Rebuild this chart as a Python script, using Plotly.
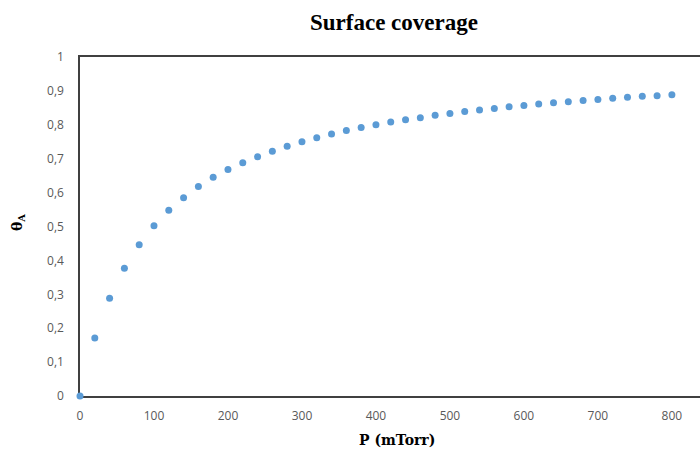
import plotly.graph_objects as go

pressure = [0, 20, 40, 60, 80, 100, 120, 140, 160, 180, 200, 220, 240, 260, 280, 300,
            320, 340, 360, 380, 400, 420, 440, 460, 480, 500, 520, 540, 560, 580, 600,
            620, 640, 660, 680, 700, 720, 740, 760, 780, 800]
coverage = [0.0, 0.171, 0.288, 0.377, 0.446, 0.502, 0.548, 0.585, 0.618, 0.645, 0.668,
            0.688, 0.706, 0.722, 0.737, 0.750, 0.762, 0.773, 0.783, 0.792, 0.800, 0.808,
            0.815, 0.821, 0.828, 0.833, 0.839, 0.844, 0.848, 0.853, 0.857, 0.861, 0.865,
            0.868, 0.872, 0.875, 0.878, 0.881, 0.884, 0.886, 0.889]
x_ticks = [0, 100, 200, 300, 400, 500, 600, 700, 800]
y_ticks = [0, 0.1, 0.2, 0.3, 0.4, 0.5, 0.6, 0.7, 0.8, 0.9, 1]
y_tick_labels = ["0", "0,1", "0,2", "0,3", "0,4", "0,5", "0,6", "0,7", "0,8", "0,9", "1"]

fig = go.Figure()
fig.add_trace(go.Scatter(
    x=pressure, y=coverage, mode="markers",
    marker=dict(color="#5B9BD5", size=7, symbol="circle"),
    cliponaxis=False, showlegend=False,
))

tick_font = dict(family="Open Sans, Noto Sans, sans-serif", size=12, color="#595959")
title_serif = "Liberation Serif, Times New Roman, serif"
axis_serif = "DejaVu Serif, serif"

ML, MR, MT, MB = 80, 0, 57, 62
W, H = 700, 458

fig.update_layout(
    width=W, height=H,
    margin=dict(l=ML, r=MR, t=MT, b=MB, autoexpand=False),
    paper_bgcolor="white", plot_bgcolor="white",
    xaxis=dict(range=[0, 838], tickvals=x_ticks, ticktext=[str(v) for v in x_ticks],
               showgrid=False, zeroline=False, showline=True, linecolor="#404040",
               linewidth=1.5, mirror=True, ticks="", tickfont=tick_font,
               ticklabelstandoff=8, automargin=False, layer="below traces"),
    yaxis=dict(range=[0, 1], tickvals=y_ticks, ticktext=y_tick_labels,
               showgrid=False, zeroline=False, showline=True, linecolor="#404040",
               linewidth=1.5, ticks="", tickfont=tick_font, ticklabelstandoff=12,
               automargin=False, layer="below traces"),
)

pw, ph = W - ML - MR, H - MT - MB


def px_ann(text, px, py, font, angle=0):
    fig.add_annotation(text=text, x=(px - ML) / pw, y=1 - (py - MT) / ph,
                       xref="paper", yref="paper", xanchor="center", yanchor="middle",
                       showarrow=False, textangle=angle, font=font)


px_ann("<b>Surface coverage</b>", 394, 23, dict(family=title_serif, size=23, color="black"))
px_ann("<b>P (mTorr)</b>", 397, 440, dict(family=axis_serif, size=14, color="black"))
px_ann("<b>θ<sub>A</sub></b>", 18, 223, dict(family=axis_serif, size=14, color="black"), angle=-90)

fig.write_html("out.html", config={"displayModeBar": False},
               post_script="document.body.style.margin='0';document.body.style.overflow='hidden';")
